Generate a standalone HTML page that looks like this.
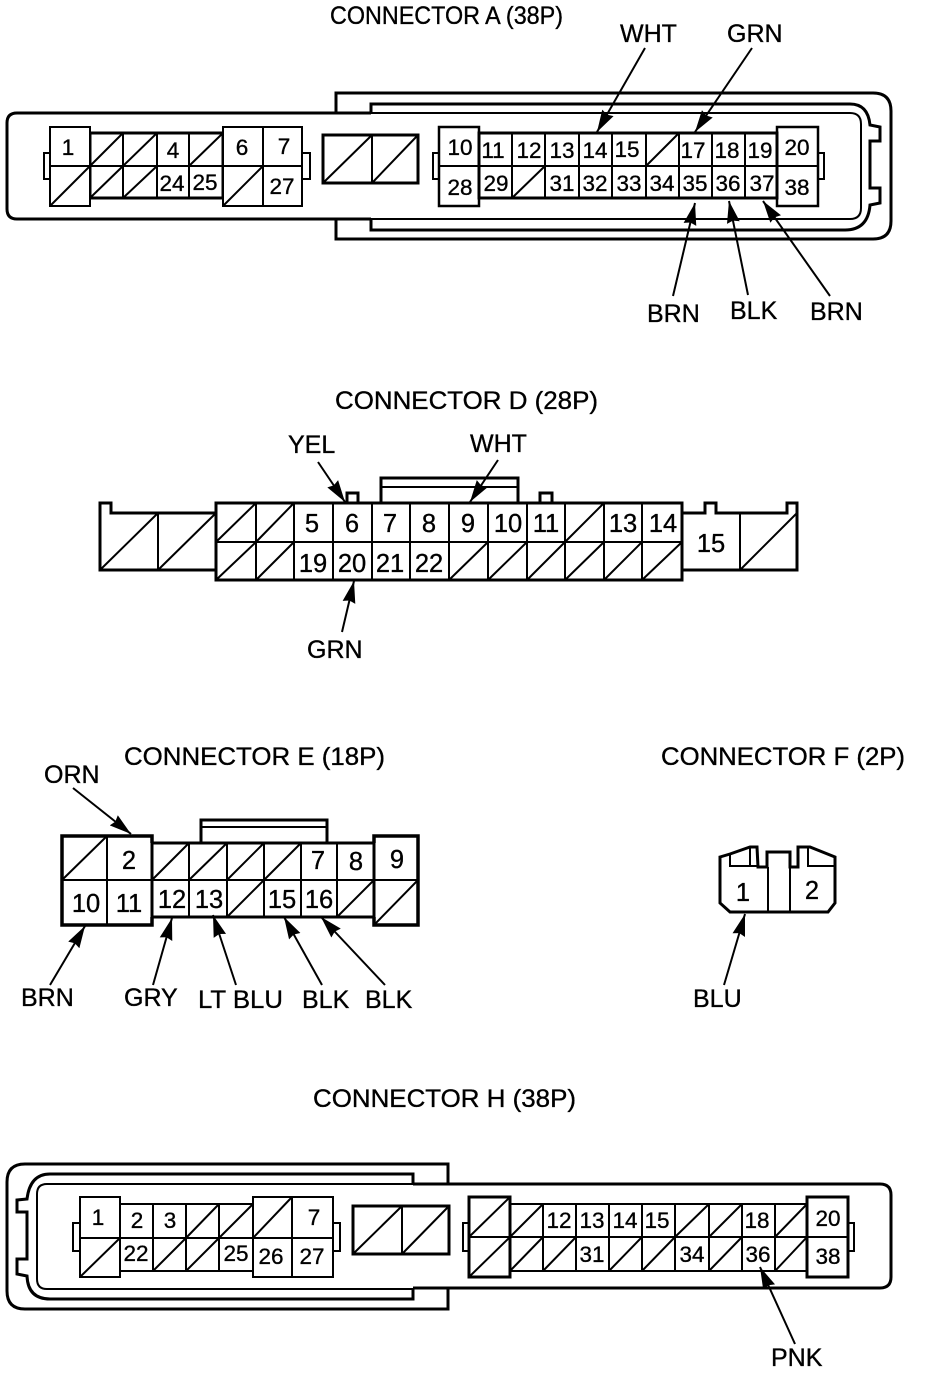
<!DOCTYPE html>
<html><head><meta charset="utf-8"><style>
html,body{margin:0;padding:0;background:#fff}
svg{display:block}
text{font-family:"Liberation Sans",sans-serif;fill:#000;stroke:#000;stroke-width:.35}
.n{font-size:22.5px;text-anchor:middle}
.b{font-size:25.5px;text-anchor:middle}
.l{font-size:25px}
.t{fill:none;stroke:#000;stroke-width:3}
.k{fill:none;stroke:#000;stroke-width:2.5}
.m{fill:none;stroke:#000;stroke-width:2}
.w{fill:#fff;stroke:#000;stroke-width:2}
.a{stroke:#000;stroke-width:2;marker-end:url(#h)}
</style></head><body>
<svg width="928" height="1376" viewBox="0 0 928 1376" xmlns="http://www.w3.org/2000/svg">
<defs><marker id="h" markerUnits="userSpaceOnUse" markerWidth="24" markerHeight="16" refX="22" refY="7" orient="auto"><path d="M0 0.5 L22 7 L0 13.5 L2 7Z" fill="#000"/></marker></defs>

<!-- CONNECTOR A -->
<text class="l" x="330" y="24" textLength="233" lengthAdjust="spacingAndGlyphs">CONNECTOR A (38P)</text>
<path class="t" d="M336 113V93H873Q891 93 891 111V221Q891 239 873 239H336V219"/>
<path class="t" d="M371 113V104H850Q868 104 870 125L880 127V141H870V188H880V203L870 205Q868 230 845 230H371V219"/>
<path class="t" d="M371 113H17Q7 113 7 123V209Q7 219 17 219H371"/>
<path class="m" d="M371 113H850Q861 113 861 124V208Q861 219 850 219H371"/>
<path class="w" d="M44 153H50V179H44ZM302 153H310V179H302ZM433 153H439V179H433ZM818 153H824V179H818Z"/>
<rect class="t" x="90" y="133" width="133" height="65" fill="#fff"/>
<path class="m" d="M123 133V198M157 133V198M189 133V198M90 166H223"/>
<path class="m" d="M90 166L123 133M123 166L157 133M189 166L223 133M90 198L123 166M123 198L157 166"/>
<rect class="w" x="50" y="127" width="40" height="79"/><path class="m" d="M50 166H90M50 206L90 166"/>
<rect class="w" x="223" y="127" width="79" height="79"/><path class="m" d="M263 127V206M223 166H302M223 206L263 166"/>
<rect class="t" x="323" y="135" width="95" height="48"/><path class="m" d="M372 135V183M323 183L372 135M372 183L418 135"/>
<rect class="t" x="479" y="133" width="298" height="65" fill="#fff"/>
<path class="m" d="M512 133V198M545 133V198M579 133V198M612 133V198M646 133V198M679 133V198M712 133V198M745 133V198M479 166H777"/>
<path class="m" d="M646 166L679 133M512 198L545 166"/>
<rect class="k" x="439" y="127" width="40" height="79" fill="#fff"/><path class="m" d="M439 166H479"/>
<rect class="k" x="777" y="127" width="41" height="79" fill="#fff"/><path class="m" d="M777 166H818"/>
<g>
<text class="n" x="68" y="155">1</text><text class="n" x="173" y="158">4</text><text class="n" x="242" y="155">6</text><text class="n" x="284" y="154">7</text>
<text class="n" x="172" y="191">24</text><text class="n" x="205" y="190">25</text><text class="n" x="282" y="194">27</text>
<text class="n" x="460" y="155">10</text><text class="n" x="493" y="158">11</text><text class="n" x="529" y="158">12</text><text class="n" x="562" y="158">13</text><text class="n" x="595" y="158">14</text><text class="n" x="627" y="157">15</text><text class="n" x="693" y="158">17</text><text class="n" x="727" y="158">18</text><text class="n" x="760" y="158">19</text><text class="n" x="797" y="155">20</text>
<text class="n" x="460" y="195">28</text><text class="n" x="496" y="191">29</text><text class="n" x="562" y="191">31</text><text class="n" x="595" y="191">32</text><text class="n" x="629" y="191">33</text><text class="n" x="662" y="191">34</text><text class="n" x="695" y="191">35</text><text class="n" x="728" y="191">36</text><text class="n" x="762" y="191">37</text><text class="n" x="797" y="195">38</text>
</g>
<text class="l" x="620" y="42">WHT</text><text class="l" x="727" y="42">GRN</text>
<text class="l" x="647" y="322">BRN</text><text class="l" x="730" y="319">BLK</text><text class="l" x="810" y="320">BRN</text>
<line class="a" x1="645" y1="48" x2="597" y2="132"/>
<line class="a" x1="752" y1="48" x2="695" y2="132"/>
<line class="a" x1="673" y1="296" x2="695" y2="203"/>
<line class="a" x1="748" y1="295" x2="729" y2="201"/>
<line class="a" x1="830" y1="296" x2="763" y2="201"/>

<!-- CONNECTOR D -->
<text class="l" x="335" y="409" textLength="263" lengthAdjust="spacingAndGlyphs">CONNECTOR D (28P)</text>
<path class="t" d="M381 503V478H518V503"/><path class="m" d="M381 487H518"/>
<path class="t" d="M347 503V493H358V503M540 503V493H552V503"/>
<path class="t" d="M216 513H111V503H100V570H216"/>
<path class="m" d="M158 513V570M100 570L158 513M158 570L216 513"/>
<path class="t" d="M682 513H705V503H716V513H787V503H797V570H682"/>
<path class="m" d="M740 513V570M740 570L797 513"/>
<rect class="t" x="216" y="503" width="466" height="77" fill="#fff"/>
<path class="m" d="M216 542H682M256 503V580M294 503V580M333 503V580M372 503V580M410 503V580M449 503V580M488 503V580M527 503V580M565 503V580M604 503V580M642 503V580"/>
<path class="m" d="M216 542L256 503M256 542L294 503M565 542L604 503M216 580L256 542M256 580L294 542M449 580L488 542M488 580L527 542M527 580L565 542M565 580L604 542M604 580L642 542M642 580L682 542"/>
<g>
<text class="b" x="312" y="532">5</text><text class="b" x="352" y="532">6</text><text class="b" x="390" y="532">7</text><text class="b" x="429" y="532">8</text><text class="b" x="468" y="532">9</text><text class="b" x="508" y="532">10</text><text class="b" x="546" y="532">11</text><text class="b" x="623" y="532">13</text><text class="b" x="663" y="532">14</text><text class="b" x="711" y="552">15</text>
<text class="b" x="313" y="572">19</text><text class="b" x="352" y="572">20</text><text class="b" x="390" y="572">21</text><text class="b" x="429" y="572">22</text>
</g>
<text class="l" x="288" y="453">YEL</text><text class="l" x="470" y="452">WHT</text><text class="l" x="307" y="658">GRN</text>
<line class="a" x1="318" y1="462" x2="345" y2="502"/>
<line class="a" x1="498" y1="460" x2="470" y2="502"/>
<line class="a" x1="342" y1="632" x2="354" y2="581"/>

<!-- CONNECTOR E -->
<text class="l" x="124" y="765" textLength="261" lengthAdjust="spacingAndGlyphs">CONNECTOR E (18P)</text>
<path class="t" d="M201 843V820H327V843"/><path class="m" d="M201 827H327"/>
<rect class="t" x="152" y="843" width="222" height="74" fill="#fff"/>
<path class="m" d="M189 843V917M227 843V917M264 843V917M301 843V917M337 843V917M152 880H374"/>
<path class="m" d="M152 880L189 843M189 880L227 843M227 880L264 843M264 880L301 843M227 917L264 880M337 917L374 880"/>
<path class="t" d="M152 843V836H62V925H152V917" fill="#fff" style="stroke-width:3.5"/>
<path class="m" d="M62 880H152M107 836V925M62 880L107 836"/>
<path class="t" d="M374 843V836H418V925H374V917" fill="#fff" style="stroke-width:3.5"/>
<path class="m" d="M374 880H418M375 924L418 880"/>
<g>
<text class="b" x="129" y="869">2</text><text class="b" x="318" y="869">7</text><text class="b" x="356" y="870">8</text><text class="b" x="397" y="868">9</text>
<text class="b" x="86" y="912">10</text><text class="b" x="129" y="912">11</text><text class="b" x="172" y="908">12</text><text class="b" x="209" y="908">13</text><text class="b" x="282" y="908">15</text><text class="b" x="319" y="908">16</text>
</g>
<text class="l" x="44" y="783">ORN</text><text class="l" x="21" y="1006">BRN</text><text class="l" x="124" y="1006">GRY</text><text class="l" x="198" y="1008" textLength="85" lengthAdjust="spacingAndGlyphs">LT BLU</text><text class="l" x="302" y="1008">BLK</text><text class="l" x="365" y="1008">BLK</text>
<line class="a" x1="73" y1="788" x2="131" y2="834"/>
<line class="a" x1="50" y1="985" x2="85" y2="926"/>
<line class="a" x1="153" y1="985" x2="172" y2="918"/>
<line class="a" x1="236" y1="985" x2="213" y2="915"/>
<line class="a" x1="322" y1="985" x2="284" y2="917"/>
<line class="a" x1="385" y1="985" x2="321" y2="917"/>

<!-- CONNECTOR F -->
<text class="l" x="661" y="765" textLength="244" lengthAdjust="spacingAndGlyphs">CONNECTOR F (2P)</text>
<path class="t" d="M720 857L730 854L750 847H757L758 867H767V852H790V867H798V847H810L835 857V903L828 912H730L720 903Z"/>
<path class="m" d="M730 855V866H758M750 847V866M808 847V866H835M768 867V912M790 867V912"/>
<text class="b" x="743" y="901">1</text><text class="b" x="812" y="899">2</text>
<text class="l" x="693" y="1007">BLU</text>
<line class="a" x1="724" y1="985" x2="745" y2="914"/>

<!-- CONNECTOR H -->
<text class="l" x="313" y="1107" textLength="263" lengthAdjust="spacingAndGlyphs">CONNECTOR H (38P)</text>
<path class="t" d="M448 1184V1164H25Q7 1164 7 1182V1291Q7 1309 25 1309H448V1289"/>
<path class="t" d="M413 1184V1174H50Q30 1174 27 1199L17 1200V1212H27V1259H17V1274L27 1276Q28 1299 50 1299H413V1289"/>
<path class="m" d="M413 1184H47Q37 1184 37 1194V1279Q37 1289 47 1289H413"/>
<path class="t" d="M413 1184H880Q891 1184 891 1195V1277Q891 1288 880 1288H413"/>
<path class="w" d="M73 1223H80V1251H73ZM333 1223H340V1251H333ZM463 1223H469V1251H463ZM848 1223H854V1251H848Z"/>
<rect class="m" x="120" y="1204" width="133" height="67" style="fill:#fff"/>
<path class="m" d="M153 1204V1271M186 1204V1271M219 1204V1271M120 1238H253"/>
<path class="m" d="M186 1238L219 1204M219 1238L253 1204M153 1271L186 1238M186 1271L219 1238"/>
<rect class="w" x="80" y="1197" width="40" height="80"/><path class="m" d="M80 1238H120M80 1277L120 1238"/>
<rect class="w" x="253" y="1197" width="80" height="80"/><path class="m" d="M292 1197V1277M253 1238H333M253 1238L292 1197"/>
<rect class="t" x="353" y="1206" width="96" height="48"/><path class="m" d="M402 1206V1254M353 1254L402 1206M402 1254L449 1206"/>
<rect class="m" x="510" y="1204" width="297" height="67" style="fill:#fff"/>
<path class="m" d="M543 1204V1271M576 1204V1271M609 1204V1271M642 1204V1271M675 1204V1271M709 1204V1271M742 1204V1271M775 1204V1271M510 1237H807"/>
<path class="m" d="M510 1237L543 1204M675 1237L709 1204M709 1237L742 1204M775 1237L807 1204M510 1271L543 1237M543 1271L576 1237M609 1271L642 1237M642 1271L675 1237M709 1271L742 1237M775 1271L807 1237"/>
<rect class="t" x="469" y="1197" width="41" height="80" fill="#fff"/><path class="m" d="M469 1237H510M469 1237L510 1197M469 1277L510 1237"/>
<rect class="t" x="807" y="1197" width="41" height="80" fill="#fff"/><path class="m" d="M807 1237H848"/>
<g>
<text class="n" x="98" y="1225">1</text><text class="n" x="137" y="1228">2</text><text class="n" x="170" y="1228">3</text><text class="n" x="314" y="1225">7</text>
<text class="n" x="136" y="1261">22</text><text class="n" x="236" y="1261">25</text><text class="n" x="271" y="1264">26</text><text class="n" x="312" y="1264">27</text>
<text class="n" x="559" y="1228">12</text><text class="n" x="592" y="1228">13</text><text class="n" x="625" y="1228">14</text><text class="n" x="657" y="1228">15</text><text class="n" x="757" y="1228">18</text><text class="n" x="828" y="1226">20</text>
<text class="n" x="592" y="1262">31</text><text class="n" x="692" y="1262">34</text><text class="n" x="758" y="1262">36</text><text class="n" x="828" y="1264">38</text>
</g>
<text class="l" x="771" y="1366">PNK</text>
<line class="a" x1="795" y1="1344" x2="760" y2="1267"/>
</svg>
</body></html>
